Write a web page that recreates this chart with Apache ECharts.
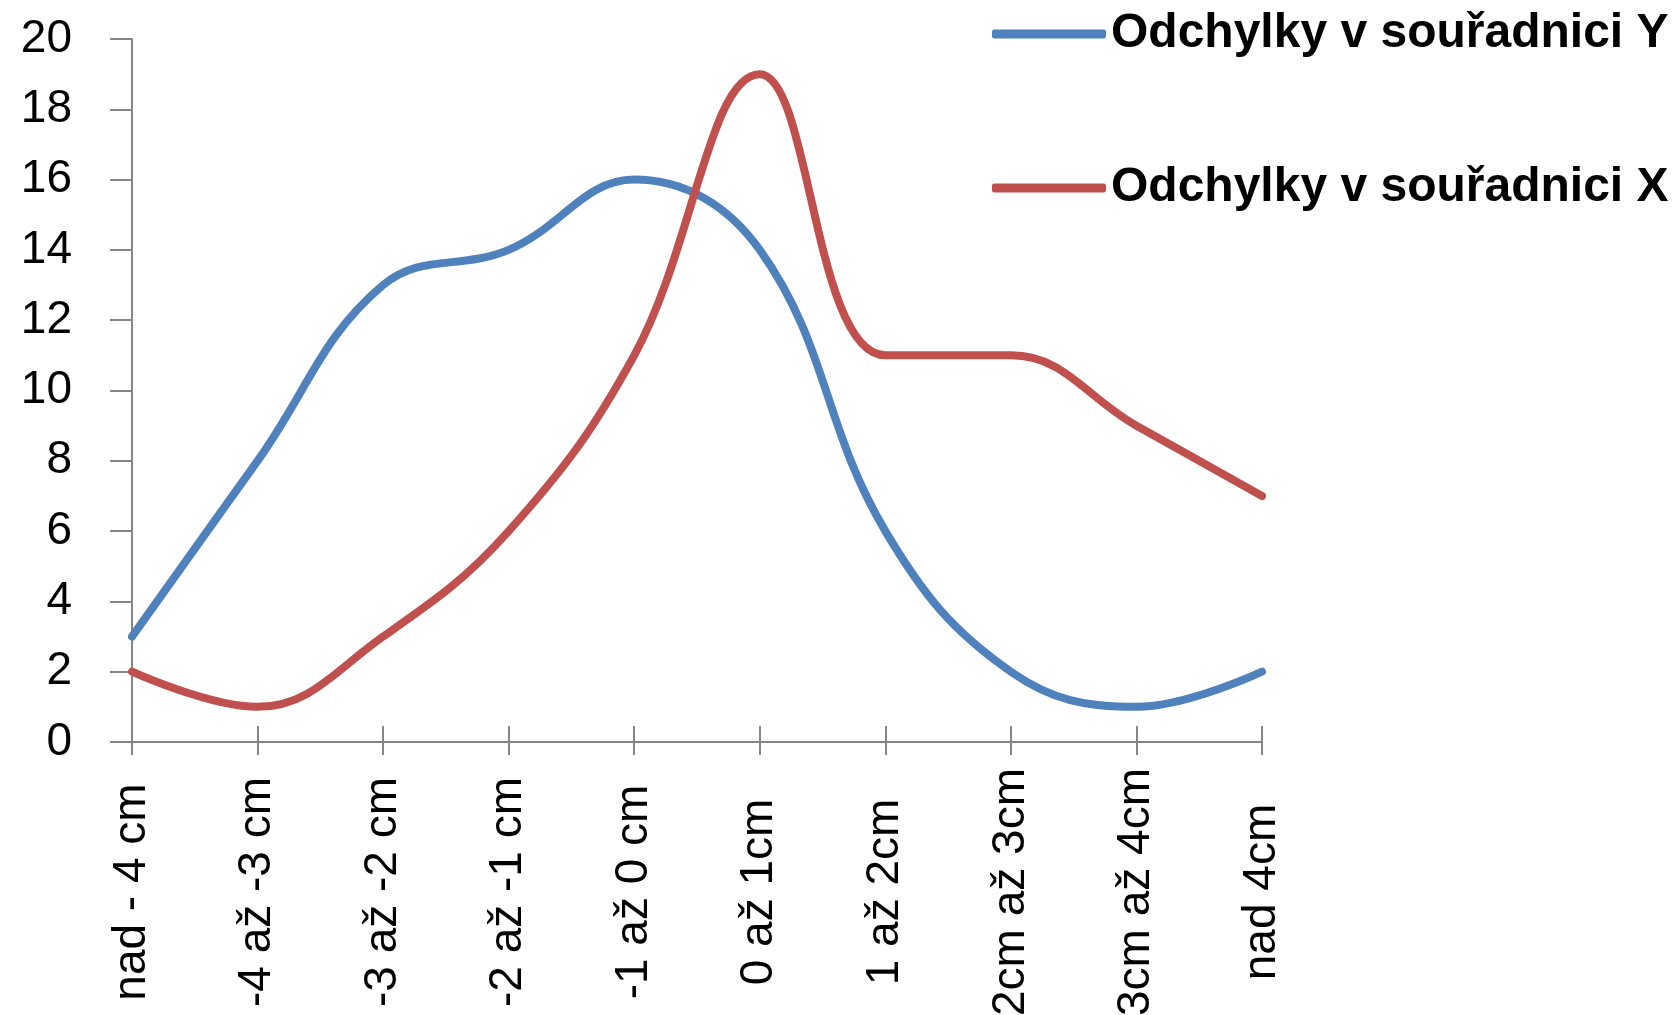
<!DOCTYPE html>
<html>
<head>
<meta charset="utf-8">
<script src="https://cdn.jsdelivr.net/npm/echarts@6/dist/echarts.min.js"></script>
<style>
html,body{margin:0;padding:0;background:#fff;}
#chart{width:1676px;height:1015px;}
</style>
</head>
<body>
<div id="chart"></div>
<script>
const categories = ['nad - 4 cm', '-4 až -3 cm', '-3 až -2 cm', '-2 až -1 cm', '-1 až 0 cm', '0 až 1cm', '1 až 2cm', '2cm až 3cm', '3cm až 4cm', 'nad 4cm'];
const seriesYName = 'Odchylky v souřadnici Y';
const seriesXName = 'Odchylky v souřadnici X';
const seriesY = [3, 8, 13, 14, 16, 14, 6, 2, 1, 2];
const seriesX = [2, 1, 3, 6, 11, 19, 11, 11, 9, 7];

const axisGray = '#868686';
const chart = echarts.init(document.getElementById('chart'), null, {renderer: 'canvas'});
chart.setOption({
  animation: false,
  backgroundColor: '#ffffff',
  grid: {left: 132, right: 414, top: 39, bottom: 273, containLabel: false, outerBoundsMode: 'none'},
  legend: {
    orient: 'vertical',
    left: 987,
    top: 2,
    icon: 'roundRect',
    itemWidth: 114,
    itemHeight: 9,
    itemGap: 100,
    textStyle: {fontFamily: 'Liberation Sans', fontWeight: 'bold', fontSize: 48, color: '#000', lineHeight: 54, padding: [0,0,0,0]},
    data: [seriesYName, seriesXName]
  },
  xAxis: [{
    type: 'category',
    data: categories,
    boundaryGap: false,
    axisLine: {lineStyle: {color: axisGray, width: 2}},
    axisTick: {show: true, length: 13, inside: false, alignWithLabel: true, lineStyle: {color: axisGray, width: 2}},
    axisLabel: {rotate: 90, align: 'center', verticalAlign: 'middle', margin: 150, fontFamily: 'Liberation Sans', fontSize: 46, color: '#000', interval: 0},
    splitLine: {show: false}
  }, {
    type: 'category',
    data: categories,
    boundaryGap: false,
    position: 'bottom',
    axisLine: {show: false},
    axisTick: {show: true, length: 16, inside: true, lineStyle: {color: axisGray, width: 2}},
    axisLabel: {show: false},
    splitLine: {show: false}
  }],
  yAxis: {
    type: 'value',
    min: 0, max: 20, interval: 2,
    axisLine: {show: true, lineStyle: {color: axisGray, width: 2}},
    axisTick: {show: true, length: 22, lineStyle: {color: axisGray, width: 2}},
    axisLabel: {margin: 60, fontFamily: 'Liberation Sans', fontSize: 46, color: '#000'},
    splitLine: {show: false}
  },
  series: [{
    name: seriesYName,
    type: 'line',
    data: seriesY,
    smooth: 0.4,
    symbol: 'none',
    lineStyle: {color: '#4F81BD', width: 8, cap: 'round', join: 'round'},
    itemStyle: {color: '#4F81BD'}
  }, {
    name: seriesXName,
    type: 'line',
    data: seriesX,
    smooth: 0.4,
    symbol: 'none',
    lineStyle: {color: '#C0504D', width: 8, cap: 'round', join: 'round'},
    itemStyle: {color: '#C0504D'}
  }]
});
</script>
</body>
</html>
